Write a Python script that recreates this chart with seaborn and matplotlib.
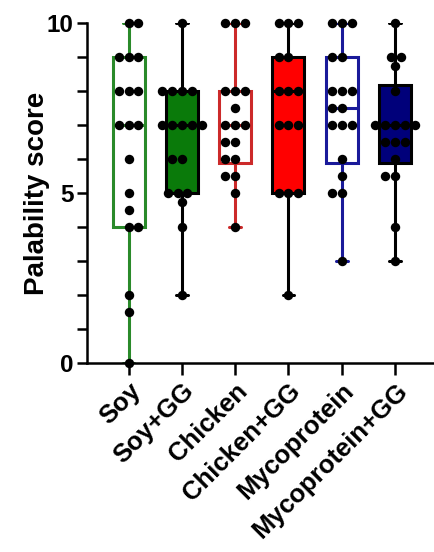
import numpy as np
import pandas as pd
import seaborn as sns
import matplotlib.pyplot as plt

groups = ['Soy', 'Soy+GG', 'Chicken', 'Chicken+GG', 'Mycoprotein', 'Mycoprotein+GG']
soy = [10, 10, 9, 9, 9, 8, 8, 8, 7, 7, 7, 6, 5, 4.5, 4, 4, 2, 1.5, 0]
soy_gg = [10, 8, 8, 8, 8, 7, 7, 7, 7, 7, 6, 6, 5, 5, 5, 4.75, 4, 2]
chicken = [10, 10, 10, 8, 8, 8, 7.5, 7, 7, 7, 6.5, 6.5, 6, 6, 5.5, 5.5, 5, 4]
chicken_gg = [10, 10, 10, 9, 9, 8, 8, 8, 7, 7, 7, 5, 5, 5, 2]
myco = [10, 10, 10, 9, 9, 8, 8, 8, 7.5, 7.5, 7, 7, 7, 6, 5.5, 5, 5, 3]
myco_gg = [10, 9, 9, 8.75, 8, 7, 7, 7, 7, 7, 6.5, 6.5, 6.5, 6, 5.5, 5.5, 4, 3]

fill_colors = ['white', '#0a7a0a', 'white', '#ff0000', 'white', '#00007a']
line_colors = ['#2a8a2a', 'black', '#cc2a2a', 'black', '#1a1a9a', 'black']

scores = [soy, soy_gg, chicken, chicken_gg, myco, myco_gg]

points = pd.DataFrame({
    'group': np.repeat(groups, [len(s) for s in scores]),
    'score': np.concatenate(scores),
})

# Prism-style quartiles, handed to seaborn as five-number summaries
summary = pd.DataFrame({
    'group': np.repeat(groups, 5),
    'score': np.concatenate([
        [min(s), *np.percentile(s, [25, 50, 75], method='weibull'), max(s)]
        for s in scores
    ]),
})

sns.set_style('ticks')
plt.rcParams['font.family'] = ['Liberation Sans', 'DejaVu Sans']
plt.rcParams['font.weight'] = 'bold'
for key in ['text.color', 'axes.labelcolor', 'xtick.color', 'ytick.color']:
    plt.rcParams[key] = 'black'

fig = plt.figure(figsize=(4.35, 5.52), dpi=100)
ax = fig.add_axes([0.2, 0.3424, 0.795, 0.6159])

for group, fill, line in zip(groups, fill_colors, line_colors):
    sns.boxplot(
        data=summary[summary.group == group], x='group', y='score', order=groups,
        color=fill, linecolor=line, linewidth=2.2, width=0.6, whis=np.inf,
        saturation=1, capwidths=0.22, ax=ax,
    )

sns.swarmplot(
    data=points, x='group', y='score', order=groups,
    color='black', size=6.8, zorder=4, clip_on=False, ax=ax,
)

ax.set_ylim(0, 10)
ax.set_xlim(-0.78, 5.71)
ax.set_yticks([0, 5, 10])
ax.set_yticks(range(11), minor=True)
ax.tick_params(axis='y', which='both', length=7.5, width=1.8, labelsize=17.5, pad=2)
ax.tick_params(axis='x', length=8.5, width=1.8, labelsize=18.5, pad=3)
ax.set_xlabel('')
ax.set_ylabel('Palability score', fontsize=20, fontweight='bold', labelpad=-2)
plt.setp(ax.get_xticklabels(), rotation=45, ha='right', rotation_mode='anchor')

sns.despine(ax=ax)
for side in ['left', 'bottom']:
    ax.spines[side].set_linewidth(1.8)
    ax.spines[side].set_color('black')

fig.savefig('out.png', dpi=100)
